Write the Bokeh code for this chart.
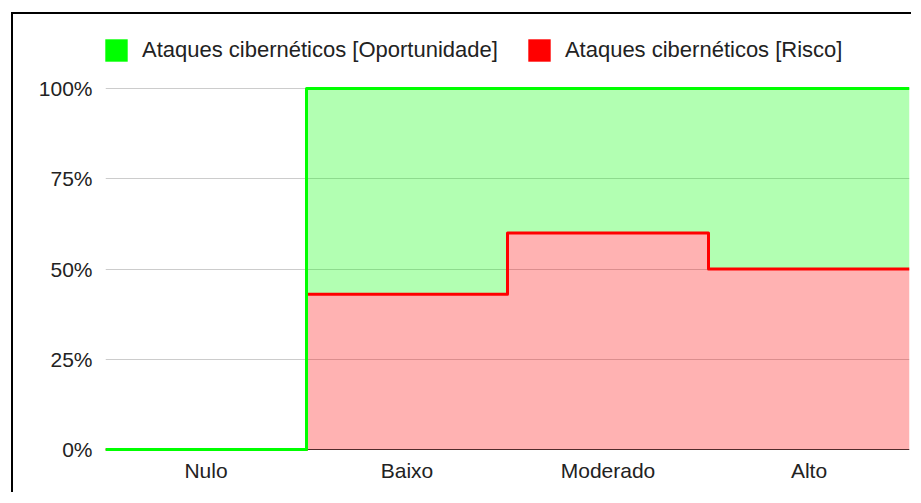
from bokeh.plotting import figure
from bokeh.models import Range1d, FixedTicker, Span, Legend, LegendItem
from bokeh.embed import file_html
from bokeh.resources import INLINE

categories = ["Nulo", "Baixo", "Moderado", "Alto"]
risco = [0, 43, 60, 50]
oportunidade = [0, 57, 40, 50]
y_ticks = [0, 25, 50, 75, 100]
y_tick_labels = ["0%", "25%", "50%", "75%", "100%"]
series_names = ["Ataques cibernéticos [Oportunidade]", "Ataques cibernéticos [Risco]"]

GREEN = "#00ff00"
RED = "#ff0000"
FONT = "Liberation Sans"
TXT = "#222222"

n = len(categories)
idx = list(range(n))
total = [r + o for r, o in zip(risco, oportunidade)]
edges = [i - 0.5 for i in range(n + 1)]
risco_e = risco + risco[-1:]
total_e = total + total[-1:]
zeros_e = [0] * (n + 1)
zeros = [0] * n

p = figure(width=900, height=480, output_backend="svg", toolbar_location=None,
           x_range=Range1d(-0.5, n - 0.5), y_range=Range1d(-0.83, 117.73),
           min_border_left=92, min_border_right=4, min_border_top=10, min_border_bottom=42)
p.styles = {"border-top": "2px solid #000", "border-left": "2px solid #000",
            "margin-left": "11px", "margin-top": "12px"}
p.outline_line_color = None
p.background_fill_color = "white"
p.border_fill_color = "white"

# baseline
p.add_layout(Span(location=0, dimension="width", line_color="#333333", line_width=1, level="underlay"))

# fills
p.varea_step(x=edges, y1=zeros_e, y2=risco_e, step_mode="after", fill_color=RED, fill_alpha=0.3)
p.varea_step(x=edges, y1=risco_e, y2=total_e, step_mode="after", fill_color=GREEN, fill_alpha=0.3)

# lines
p.step(x=edges, y=risco_e, mode="after", line_color=RED, line_width=3, line_join="round")
p.step(x=edges, y=total_e, mode="after", line_color=GREEN, line_width=3, line_join="round")

# legend proxies (zero-area quads, only used for the legend swatches)
g_proxy = p.quad(left=idx, right=idx, top=zeros, bottom=zeros, fill_color=GREEN, line_color=None)
r_proxy = p.quad(left=idx, right=idx, top=zeros, bottom=zeros, fill_color=RED, line_color=None)

legend = Legend(items=[LegendItem(label=series_names[0], renderers=[g_proxy]),
                       LegendItem(label=series_names[1], renderers=[r_proxy])],
                orientation="horizontal", location=(-3, 388.5),
                glyph_width=28, glyph_height=28, label_standoff=12, spacing=27,
                padding=0, margin=0, border_line_color=None, background_fill_alpha=0,
                label_text_font=FONT, label_text_font_size="22px", label_text_color=TXT)
p.add_layout(legend, "center")

# axes
p.xaxis.ticker = FixedTicker(ticks=idx)
p.xaxis.major_label_overrides = {i: c for i, c in zip(idx, categories)}
p.yaxis.ticker = FixedTicker(ticks=y_ticks)
p.yaxis.major_label_overrides = {t: l for t, l in zip(y_ticks, y_tick_labels)}
for ax in (p.xaxis, p.yaxis):
    ax.axis_line_color = None
    ax.major_tick_line_color = None
    ax.minor_tick_line_color = None
    ax.major_tick_out = 0
    ax.major_tick_in = 0
    ax.major_label_text_font = FONT
    ax.major_label_text_font_size = "21px"
    ax.major_label_text_color = TXT
p.xaxis.major_label_standoff = 6
p.yaxis.major_label_standoff = 13

p.xgrid.grid_line_color = None
p.ygrid.ticker = FixedTicker(ticks=y_ticks[1:])
p.ygrid.grid_line_color = "#cccccc"

open("out.html", "w").write(file_html(p, INLINE))
